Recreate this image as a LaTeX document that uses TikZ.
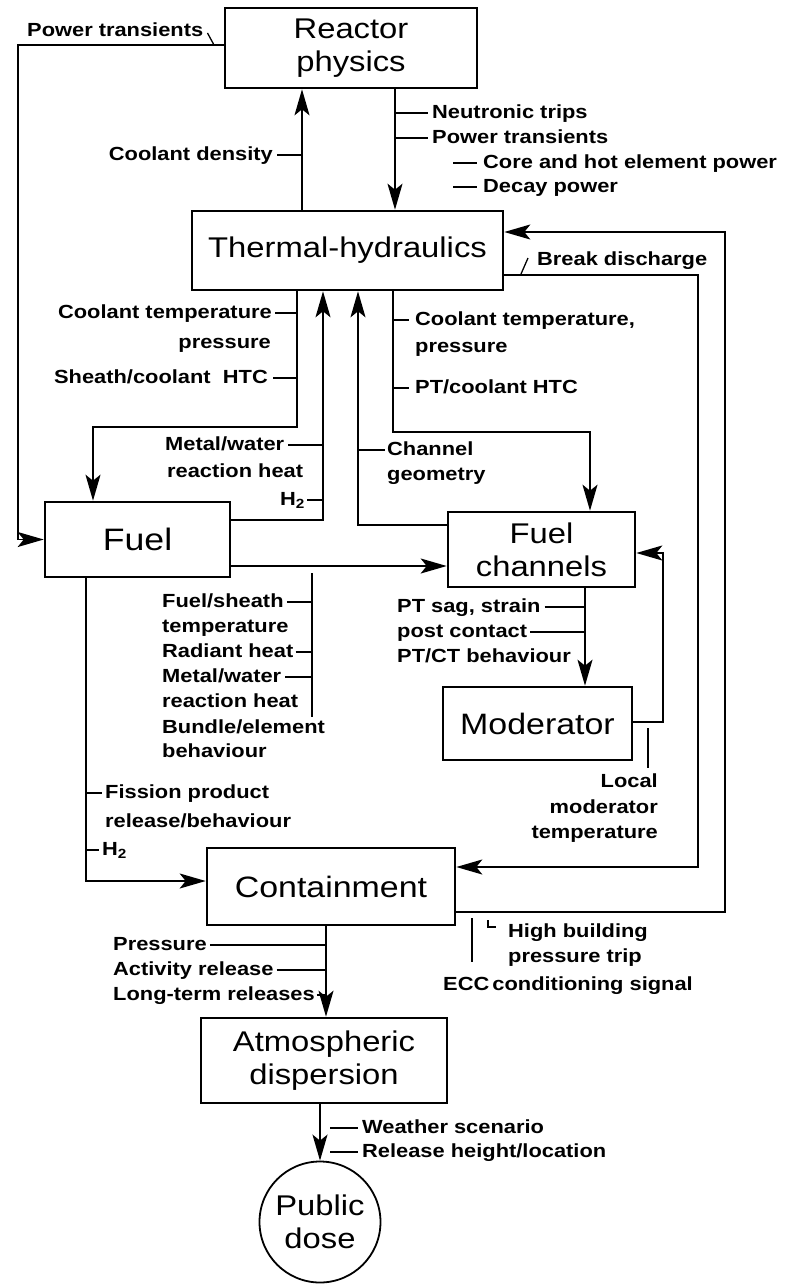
\documentclass[tikz,border=0pt]{standalone}
\usepackage{fontspec}
\usetikzlibrary{arrows.meta}
\newfontfamily\boxfont{Liberation Sans}[FakeStretch=1.15]
\newfontfamily\lblfont{Liberation Sans}[FakeStretch=1.15]
\tikzset{
  conn/.style={line width=1.8pt},
  arr/.style={conn, -{Stealth[length=26pt,width=15pt,inset=6pt]}},
  box/.style={draw, line width=2.6pt, inner sep=0pt, align=center,
    font=\boxfont\fontsize{28.5}{33}\selectfont},
  lbl/.style={inner sep=0pt, text height=14pt, text depth=4pt,
    font=\lblfont\bfseries\fontsize{19}{25}\selectfont},
  lead/.style={line width=1.3pt},
}
\begin{document}
\begin{tikzpicture}[x=1pt,y=-1pt]
\fill[white] (0,0) rectangle (786,1286);
\useasboundingbox (0,0) rectangle (786,1286);

% ---------- boxes ----------
\node[box, minimum width=252pt, minimum height=80pt] (rp) at (351,48) {Reactor\\physics};
\node[box, minimum width=311pt, minimum height=79pt] (th) at (347.5,250.5) {Thermal-hydraulics};
\node[box, minimum width=185pt, minimum height=75pt, font=\boxfont\fontsize{31}{33}\selectfont] (fu) at (137.5,539.5) {Fuel};
\node[box, minimum width=187pt, minimum height=75pt] (fc) at (541.5,549.5) {Fuel\\channels};
\node[box, minimum width=189pt, minimum height=73pt, font=\boxfont\fontsize{29.5}{33}\selectfont] (mo) at (537.5,723.5) {Moderator};
\node[box, minimum width=248pt, minimum height=77pt, font=\boxfont\fontsize{29.5}{33}\selectfont] (co) at (331,886.5) {Containment};
\node[box, minimum width=246pt, minimum height=85pt] (ad) at (324,1060.5) {Atmospheric\\dispersion};
\node[box, circle, line width=1.8pt, minimum size=121pt] (pd) at (320,1222) {Public\\dose};

% ---------- routing coordinates ----------
\coordinate (pt1) at (18,45);
\coordinate (xcd) at (302,0);
\coordinate (xnt) at (395,0);
\coordinate (k1) at (297,427); \coordinate (k2) at (93,427);
\coordinate (k3) at (323,520);
\coordinate (k4) at (358,525);
\coordinate (k5) at (393,432); \coordinate (k6) at (590,432);
\coordinate (k7) at (300,566);
\coordinate (k8) at (585,0);
\coordinate (k9) at (663,722); \coordinate (k10) at (663,553);
\coordinate (k11) at (698,275); \coordinate (k12) at (698,867);
\coordinate (k13) at (725,912); \coordinate (k14) at (725,232);
\coordinate (k15) at (86,881);
\coordinate (k16) at (326,0);

% ---------- connectors ----------
\draw[arr] (rp.west |- pt1) -- (pt1) |- (fu.west);
\draw[arr] (th.north -| xcd) -- (rp.south -| xcd);
\draw[arr] (rp.south -| xnt) -- (th.north -| xnt);
\draw[arr] (th.south -| k1) -- (k1) -- (k2) -- (fu.north -| k2);
\draw[arr] (fu.east |- k3) -- (k3) -- (th.south -| k3);
\draw[arr] (fc.west |- k4) -- (k4) -- (th.south -| k4);
\draw[arr] (th.south -| k5) -- (k5) -- (k6) -- (fc.north -| k6);
\draw[arr] (fu.east |- k7) -- (fc.west |- k7);
\draw[arr] (fc.south -| k8) -- (mo.north -| k8);
\draw[arr] (mo.east |- k9) -- (k9) -- (k10) -- (fc.east |- k10);
\draw[arr] (th.east |- k11) -- (k11) -- (k12) -- (co.east |- k12);
\draw[arr] (co.east |- k13) -- (k13) -- (k14) -- (th.east |- k14);
\draw[arr] (fu.south -| k15) -- (k15) -- (co.west |- k15);
\draw[arr] (co.south -| k16) -- (ad.north -| k16);
\draw[arr] (ad.south -| pd.north) -- (pd.north);

% ---------- labels ----------
\node[lbl, anchor=west] (lpt) at (27,31) {Power transients};
\draw[lead] ([shift={(4,2)}]lpt.east) -- ([shift={(10,13)}]lpt.east);

\node[lbl, anchor=east] (lcd) at (273,155) {Coolant density};
\draw[lead] ([xshift=4pt]lcd.east) -- (lcd.east -| xcd);

\node[lbl, anchor=west] (lnt) at (432,113) {Neutronic trips};
\draw[lead] (lnt.west -| xnt) -- ([xshift=-4pt]lnt.west);
\node[lbl, anchor=west] (lpt2) at (432,138) {Power transients};
\draw[lead] (lpt2.west -| xnt) -- ([xshift=-4pt]lpt2.west);
\node[lbl, anchor=west] (lch) at (483,163) {Core and hot element power};
\draw[lead] ([xshift=-30pt]lch.west) -- ([xshift=-6pt]lch.west);
\node[lbl, anchor=west] (ldp) at (483,187) {Decay power};
\draw[lead] ([xshift=-30pt]ldp.west) -- ([xshift=-6pt]ldp.west);

\node[lbl, anchor=west] (lbd) at (537,260) {Break discharge};
\draw[lead] ([shift={(-16,14)}]lbd.west) -- ([shift={(-9,-2)}]lbd.west);

\node[lbl, anchor=east] (lct) at (272,313) {Coolant temperature};
\draw[lead] ([xshift=3pt]lct.east) -- (lct.east -| k1);
\node[lbl, anchor=east] (lpr) at (271,343) {pressure};
\node[lbl, anchor=east] (lsh) at (268,378) {Sheath/coolant\ \ HTC};
\draw[lead] ([xshift=5pt]lsh.east) -- (lsh.east -| k1);

\node[lbl, anchor=west] (lmw) at (165,445) {Metal/water};
\draw[lead] ([xshift=4pt]lmw.east) -- (lmw.east -| k3);
\node[lbl, anchor=west] (lrh) at (167,472) {reaction heat};
\node[lbl, anchor=east] (lh2) at (305,500) {H\textsubscript{2}};
\draw[lead] ([xshift=2pt]lh2.east) -- (lh2.east -| k3);

\node[lbl, anchor=west] (lchn) at (387,450) {Channel};
\draw[lead] (lchn.west -| k4) -- ([xshift=-2pt]lchn.west);
\node[lbl, anchor=west] (lgeo) at (387,475) {geometry};

\node[lbl, anchor=west] (lct2) at (415,320) {Coolant temperature,};
\draw[lead] (lct2.west -| k5) -- ([xshift=-6pt]lct2.west);
\node[lbl, anchor=west] (lpr2) at (415,347) {pressure};
\node[lbl, anchor=west] (lpth) at (415,388) {PT/coolant HTC};
\draw[lead] (lpth.west -| k5) -- ([xshift=-6pt]lpth.west);

\coordinate (brk1) at (312,573); \coordinate (brk2) at (312,717);
\draw[lead] (brk1) -- (brk2);
\node[lbl, anchor=west] (lfs) at (162,602) {Fuel/sheath};
\draw[lead] ([xshift=3pt]lfs.east) -- (lfs.east -| brk1);
\node[lbl, anchor=west] (ltp) at (162,627) {temperature};
\node[lbl, anchor=west] (lrad) at (162,652) {Radiant heat};
\draw[lead] ([xshift=2pt]lrad.east) -- (lrad.east -| brk1);
\node[lbl, anchor=west] (lmw2) at (162,677) {Metal/water};
\draw[lead] ([xshift=4pt]lmw2.east) -- (lmw2.east -| brk1);
\node[lbl, anchor=west] (lrh2) at (162,702) {reaction heat};
\node[lbl, anchor=west] (lbe) at (162,728) {Bundle/element};
\node[lbl, anchor=west] (lbh) at (162,752) {behaviour};

\node[lbl, anchor=west] (lfp) at (105,793) {Fission product};
\draw[lead] (lfp.west -| k15) -- ([xshift=-3pt]lfp.west);
\node[lbl, anchor=west] (lrb) at (105,822) {release/behaviour};
\node[lbl, anchor=west] (lh22) at (102,850) {H\textsubscript{2}};
\draw[lead] (lh22.west -| k15) -- ([xshift=-3pt]lh22.west);

\node[lbl, anchor=west] (lps) at (397,607) {PT sag, strain};
\draw[lead] ([xshift=4pt]lps.east) -- (lps.east -| k8);
\node[lbl, anchor=west] (lpc) at (397,632) {post contact};
\draw[lead] ([xshift=3pt]lpc.east) -- (lpc.east -| k8);
\node[lbl, anchor=west] (lpct) at (397,657) {PT/CT behaviour};

\coordinate (tk1) at (648,728); \coordinate (tk2) at (648,768);
\draw[lead] (tk1) -- (tk2);
\node[lbl, anchor=east] (llo) at (658,782) {Local};
\node[lbl, anchor=east] (lmod) at (658,808) {moderator};
\node[lbl, anchor=east] (ltem) at (658,833) {temperature};

\node[lbl, anchor=west] (lhb) at (508,932) {High building};
\node[lbl, anchor=west] (lptr) at (508,957) {pressure trip};
\draw[lead] ([shift={(-20,-12)}]lhb.west) -- ([shift={(-20,-5)}]lhb.west) -- ([shift={(-12,-5)}]lhb.west);
\coordinate (ec1) at (472,918); \coordinate (ec2) at (472,962);
\draw[lead] (ec1) -- (ec2);
\node[lbl, anchor=west] (lecc) at (443,985) {ECC\,conditioning signal};

\node[lbl, anchor=west] (lpres) at (113,945) {Pressure};
\draw[lead] ([xshift=3pt]lpres.east) -- (lpres.east -| k16);
\node[lbl, anchor=west] (lar) at (113,970) {Activity release};
\draw[lead] ([xshift=3pt]lar.east) -- (lar.east -| k16);
\node[lbl, anchor=west] (llt) at (113,995) {Long-term releases};
\draw[lead] ([xshift=2pt]llt.east) -- (llt.east -| k16);

\node[lbl, anchor=west] (lws) at (362,1128) {Weather scenario};
\draw[lead] ([xshift=-32pt]lws.west) -- ([xshift=-4pt]lws.west);
\node[lbl, anchor=west] (lrl) at (362,1152) {Release height/location};
\draw[lead] ([xshift=-32pt]lrl.west) -- ([xshift=-4pt]lrl.west);
\end{tikzpicture}
\end{document}
